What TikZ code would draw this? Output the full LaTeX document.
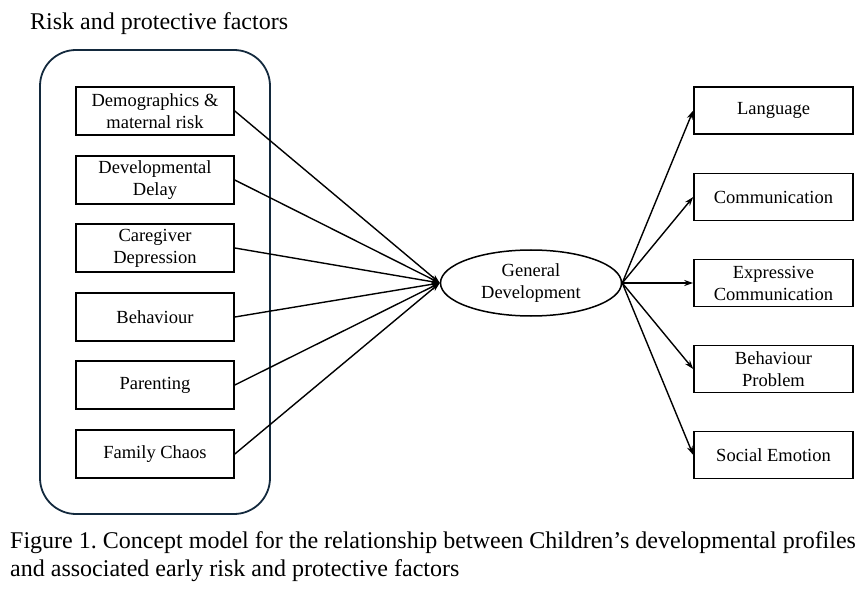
\documentclass[tikz,border=0pt]{standalone}
\usepackage{fontspec}
\setmainfont{Liberation Serif}
\usetikzlibrary{arrows.meta,shapes.geometric}
\definecolor{navy}{HTML}{13293D}
\begin{document}
\frenchspacing
\begin{tikzpicture}[x=1pt,y=-1pt,
  lbox/.style={draw,line width=1.6pt,minimum width=158pt,minimum height=48pt,inner sep=0pt,align=center,font=\fontsize{18.5}{22}\selectfont},
  rbox/.style={draw,line width=1.6pt,minimum width=159pt,minimum height=47pt,inner sep=0pt,align=center,font=\fontsize{18.5}{22}\selectfont},
  conn/.style={line width=1.4pt,-{Stealth[length=9pt,width=6pt]}},
  txt/.style={inner sep=0pt,font=\fontsize{24}{28}\selectfont}]
\useasboundingbox (0,0) rectangle (866,593);
\node[txt,anchor=base west] (title) at (30,30) {Risk and protective factors};
\draw[navy,line width=1.8pt,rounded corners=36pt] (40,50) rectangle (270,514);
\node[lbox] (l1) at (155,111) {Demographics \&\\maternal risk};
\node[lbox] (l2) at (155,180) {Developmental\\Delay};
\node[lbox] (l3) at (155,248) {Caregiver\\Depression};
\node[lbox] (l4) at (155,317) {Behaviour};
\node[lbox] (l5) at (155,385) {Parenting};
\node[lbox] (l6) at (155,454) {Family Chaos};
\node[draw,ellipse,line width=1.5pt,minimum width=181pt,minimum height=66pt,inner sep=0pt,align=center,font=\fontsize{18.5}{22}\selectfont] (gd) at (531,283) {General\\Development};
\node[rbox] (r1) at (773.5,110.5) {Language};
\node[rbox] (r2) at (773.5,197) {Communication};
\node[rbox] (r3) at (773.5,283) {Expressive\\Communication};
\node[rbox] (r4) at (773.5,369) {Behaviour\\Problem};
\node[rbox] (r5) at (773.5,455) {Social Emotion};
\foreach \i in {1,...,6} \draw[conn] (l\i.east) -- (gd.west);
\foreach \i in {1,...,5} \draw[conn] (gd.east) -- (r\i.west);
\node[txt,anchor=base west] (cap1) at (10,548) {Figure 1. Concept model for the relationship between Children’s developmental profiles};
\node[txt,anchor=base west] (cap2) at (10,576) {and associated early risk and protective factors};
\end{tikzpicture}
\end{document}
